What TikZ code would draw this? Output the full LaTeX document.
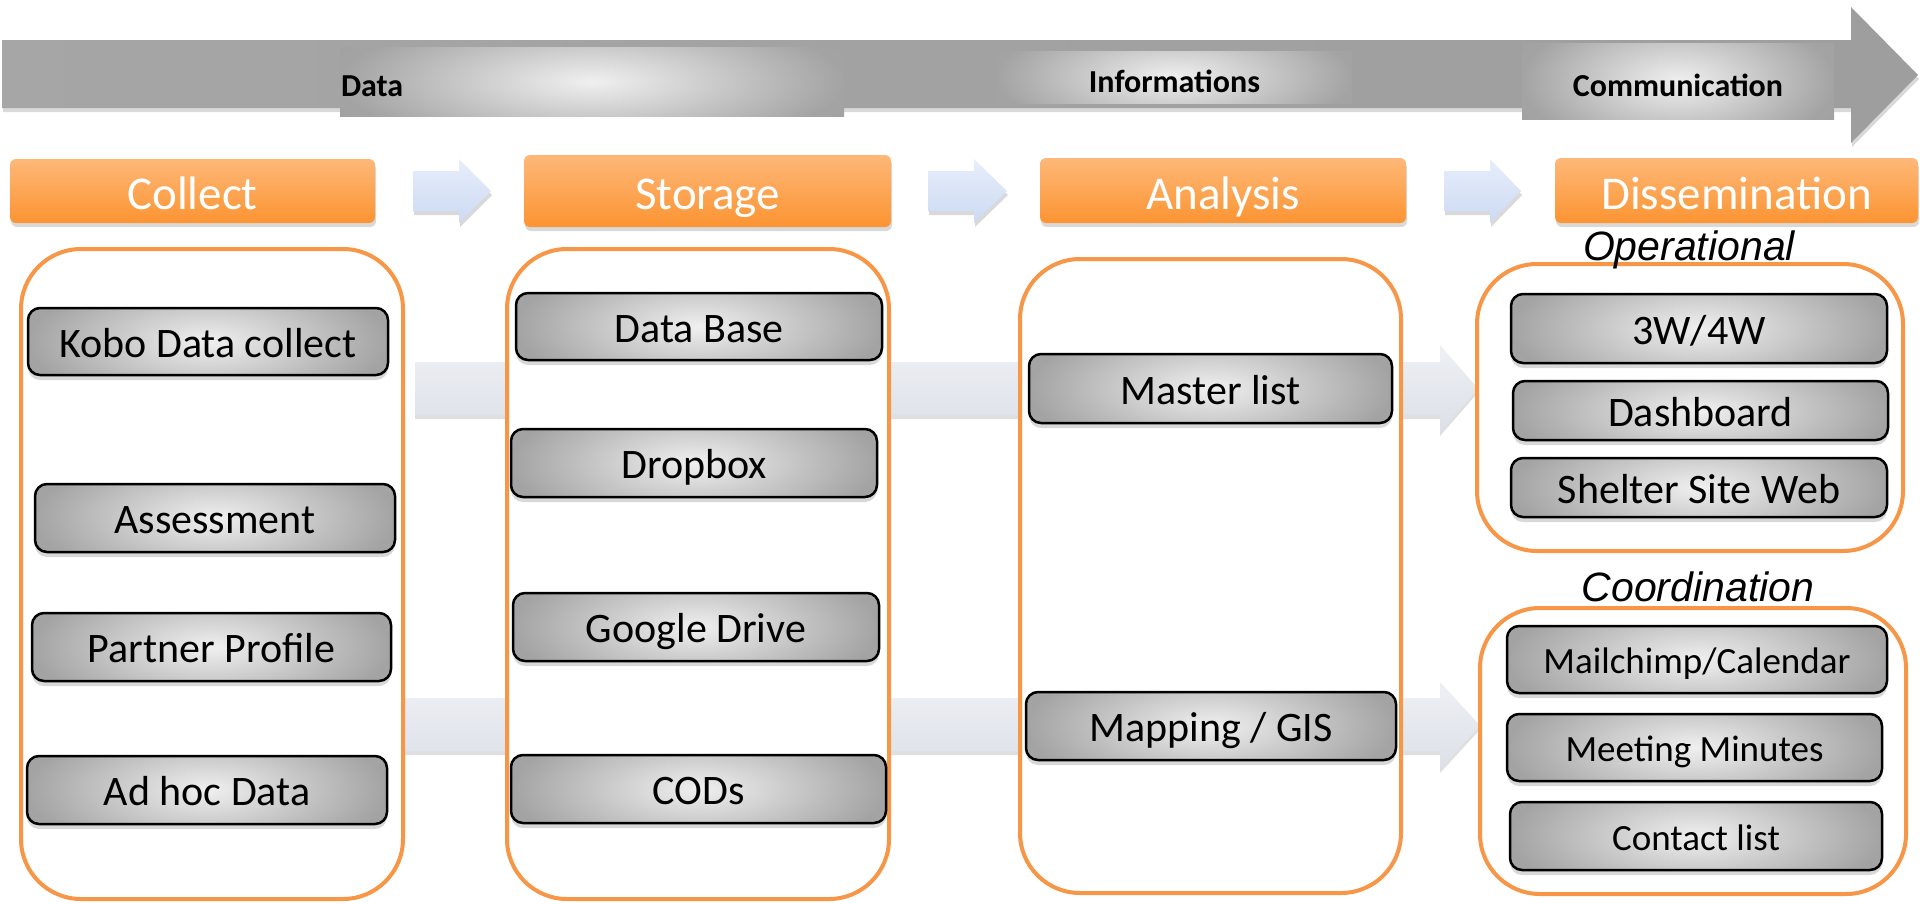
\documentclass[tikz,border=0pt]{standalone}
\usepackage{fontspec}
\setmainfont{Carlito}
\newfontfamily\subfont{Liberation Sans}
\usetikzlibrary{
		shadows
	}
\definecolor{hdrtop}{HTML}{FDB878}
\definecolor{hdrbot}{HTML}{FC9432}
\definecolor{framecol}{HTML}{F79646}
\definecolor{flowtop}{HTML}{E7EEFB}
\definecolor{flowbot}{HTML}{CCDAF3}
\definecolor{bandtop}{HTML}{EEF0F4}
\definecolor{bandbot}{HTML}{DCE0E8}
\pgfdeclareradialshading{glow}{\pgfpoint{0bp}{0bp}}{color(0bp)=(black!6); color(25bp)=(black!36); color(50bp)=(black!40)}
\tikzset{
		>=stealth,
		glowfill/.style={path picture={\shade[shading=glow] ([yshift=-#1]path picture bounding box.south west) rectangle ([yshift=#1]path picture bounding box.north east);}},
		softshadow/.style={drop shadow={opacity=0.3, shadow xshift=1pt, shadow yshift=-4pt}},
		topbar/.style={left color=black!35, middle color=black!8, right color=black!38, softshadow},
		barlabel/.style={glowfill=35pt, inner sep=0pt, font=\bfseries\fontsize{32}{36}\selectfont, text height=30pt, text depth=0pt},
		hdr/.style={rounded corners=6pt, top color=hdrtop, bottom color=hdrbot, text=white, inner sep=0pt,
			font=\fontsize{47}{51}\selectfont, text height=37pt, text depth=0pt, softshadow},
		flow/.style={top color=flowtop, bottom color=flowbot, softshadow},
		band/.style={top color=bandtop, bottom color=bandbot, drop shadow={opacity=0.25, shadow xshift=0pt, shadow yshift=-4pt}},
		colbox/.style={draw=framecol, line width=4pt, fill=white, rounded corners=60pt},
		itembox/.style={draw=black, line width=2.5pt, rounded corners=12pt, glowfill=34pt, inner sep=0pt,
			font=\fontsize{42}{46}\selectfont, text height=31pt, text depth=0pt,
			drop shadow={opacity=0.3, shadow xshift=0pt, shadow yshift=-5pt}},
		smallitem/.style={itembox, font=\fontsize{37}{41}\selectfont, text height=28pt},
		grouplabel/.style={anchor=base, font=\subfont\itshape\fontsize{41}{45}\selectfont}
	}

\begin{document}
\begin{tikzpicture}[x=1pt, y=-1pt]
    \useasboundingbox (0,0) rectangle (1920,903);

    % the big arrow on top
    \shade[topbar] (2,40) -- (1851,40) -- (1851,7) -- (1918,75) -- (1851,143) -- (1851,108) -- (2,108) -- cycle;
    \node[barlabel, minimum width=504pt, minimum height=69pt, text width=502pt, align=left] (data) at (592,81.5) {Data};
    \node[barlabel, minimum width=355pt, minimum height=52pt] (info) at (1174.5,77) {Informations};
    \node[barlabel, minimum width=312pt, minimum height=76pt] (comm) at (1678,81) {Communication};

    % the four steps
    \node[hdr, minimum width=365pt, minimum height=64pt] (collect) at (192.5,191) {Collect};
    \node[hdr, minimum width=367pt, minimum height=72pt] (storage) at (707.5,191) {Storage};
    \node[hdr, minimum width=366pt, minimum height=65pt] (analysis) at (1223,190.5) {Analysis};
    \node[hdr, minimum width=363pt, minimum height=65pt] (dissem) at (1736.5,190.5) {Dissemination};

    % small arrows between the steps
    \shade[flow] (413,171) -- ++(46,0) -- ++(0,-12) -- ++(32,32) -- ++(-32,32) -- ++(0,-12) -- ++(-46,0) -- cycle;
    \shade[flow] (928,171) -- ++(46,0) -- ++(0,-12) -- ++(33,32) -- ++(-33,32) -- ++(0,-12) -- ++(-46,0) -- cycle;
    \shade[flow] (1444,171) -- ++(46,0) -- ++(0,-12) -- ++(31,32) -- ++(-31,32) -- ++(0,-12) -- ++(-46,0) -- cycle;

    % the wide bands behind the columns
    \shade[band] (415,362) -- (1440,362) -- (1440,345) -- (1478,388.5) -- (1440,432) -- (1440,415) -- (415,415) -- cycle;
    \shade[band] (405,698) -- (1440,698) -- (1440,682) -- (1480,725.5) -- (1440,769) -- (1440,751) -- (405,751) -- cycle;

    % the columns
    \node[colbox, minimum width=382pt, minimum height=650pt] (colCollect) at (212,574) {};
    \node[colbox, minimum width=382pt, minimum height=650pt] (colStorage) at (698,574) {};
    \node[colbox, minimum width=381pt, minimum height=634pt] (colAnalysis) at (1210.5,576) {};
    \node[colbox, minimum width=426pt, minimum height=287pt] (colOper) at (1690,407.5) {};
    \node[colbox, minimum width=426pt, minimum height=286pt] (colCoord) at (1693,751) {};

    \node[grouplabel] (oper) at (1689,260) {Operational};
    \node[grouplabel] (coord) at (1698,601) {Coordination};

    % the items in the columns
    \node[itembox, minimum width=360pt, minimum height=67pt] (kobo) at (208,341.5) {Kobo Data collect};
    \node[itembox, minimum width=360pt, minimum height=68pt] (assess) at (215,518) {Assessment};
    \node[itembox, minimum width=359pt, minimum height=68pt] (partner) at (211.5,647) {Partner Profile};
    \node[itembox, minimum width=360pt, minimum height=68pt] (adhoc) at (207,790) {Ad hoc Data};

    \node[itembox, minimum width=366pt, minimum height=67pt] (database) at (699,326.5) {Data Base};
    \node[itembox, minimum width=366pt, minimum height=68pt] (dropbox) at (694,463) {Dropbox};
    \node[itembox, minimum width=366pt, minimum height=68pt] (gdrive) at (696,627) {Google Drive};
    \node[itembox, minimum width=375pt, minimum height=68pt] (cods) at (698.5,789) {CODs};

    \node[itembox, minimum width=363pt, minimum height=69pt] (master) at (1210.5,388.5) {Master list};
    \node[itembox, minimum width=370pt, minimum height=68pt] (mapping) at (1211,726) {Mapping / GIS};

    \node[itembox, minimum width=376pt, minimum height=69pt] (www) at (1699,328.5) {3W/4W};
    \node[itembox, minimum width=375pt, minimum height=59pt] (dash) at (1700.5,410.5) {Dashboard};
    \node[itembox, minimum width=376pt, minimum height=59pt] (shelter) at (1699,487.5) {Shelter Site Web};

    \node[smallitem, minimum width=380pt, minimum height=67pt] (mailchimp) at (1697,659.5) {Mailchimp/Calendar};
    \node[smallitem, minimum width=375pt, minimum height=67pt] (minutes) at (1694.5,747.5) {Meeting Minutes};
    \node[smallitem, minimum width=372pt, minimum height=68pt] (contact) at (1696,836) {Contact list};

\end{tikzpicture}
\end{document}
